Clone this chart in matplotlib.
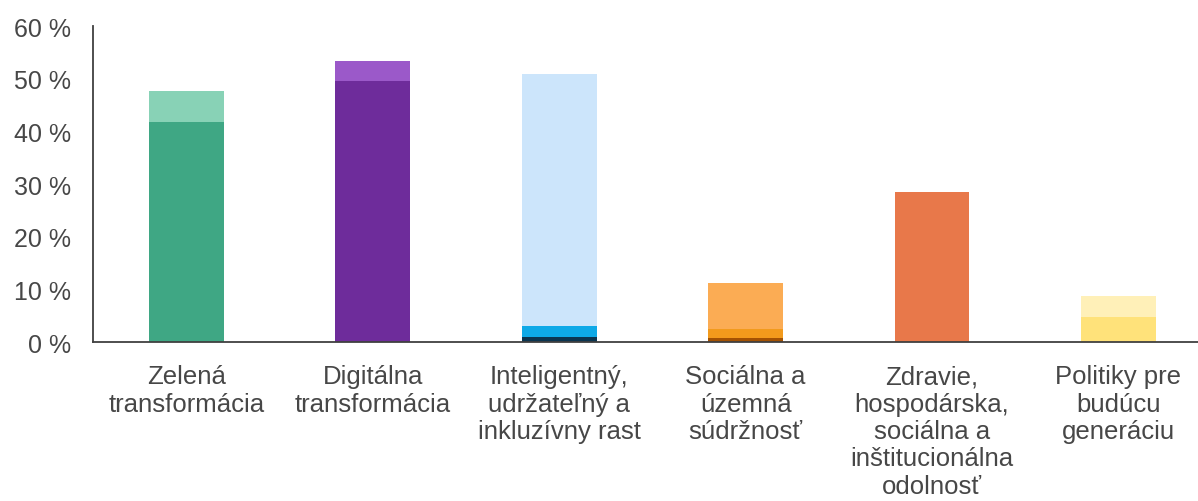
import matplotlib
matplotlib.use("Agg")
import matplotlib.pyplot as plt
import numpy as np

plt.rcParams['font.family'] = ['Liberation Sans', 'DejaVu Sans']

categories = ["Zelená\ntransformácia", "Digitálna\ntransformácia",
              "Inteligentný,\nudržateľný a\ninkluzívny rast",
              "Sociálna a\núzemná\nsúdržnosť",
              "Zdravie,\nhospodárska,\nsociálna a\ninštitucionálna\nodolnosť",
              "Politiky pre\nbudúcu\ngeneráciu"]

# stacked segments per category (bottom -> top), in %
seg1 = [41.7, 49.6, 0.9, 0.8, 28.5, 4.7]
seg2 = [5.9, 3.8, 2.1, 1.6, 0.0, 4.1]
seg3 = [0.0, 0.0, 47.9, 8.8, 0.0, 0.0]

col1 = ["#3fa784", "#6e2c9b", "#0b3550", "#a35203", "#e8784a", "#ffe27a"]
col2 = ["#88d2b6", "#9b59c9", "#0ea9e7", "#f29a1c", "#e8784a", "#fff0b8"]
col3 = ["#88d2b6", "#9b59c9", "#cce5fb", "#fbac54", "#e8784a", "#fff0b8"]

yticks = [0, 10, 20, 30, 40, 50, 60]
ytick_labels = [f"{v} %" for v in yticks]

fig = plt.figure(figsize=(11.98, 5.02), dpi=100)
ax = fig.add_axes([0.0776, 0.3167, 0.9224, 0.6295])

x = np.arange(len(categories))
w = 0.402
b = np.zeros(len(categories))
for vals, cols in [(seg1, col1), (seg2, col2), (seg3, col3)]:
    v = np.array(vals)
    ax.bar(x, v, width=w, bottom=b, color=cols, edgecolor='none', zorder=2)
    b = b + v

ax.set_xlim(-0.5016, 5.427)
ax.set_ylim(0, 60)
ax.set_yticks(yticks)
ax.set_yticklabels(ytick_labels, fontsize=18, color="#474747")
ax.set_xticks(x)
ax.set_xticklabels(categories, fontsize=18.5, color="#474747", linespacing=1.18)
ax.tick_params(axis='y', length=0, pad=16)
ax.tick_params(axis='x', length=0, pad=16)
for s in ['top', 'right']:
    ax.spines[s].set_visible(False)
for s in ['left', 'bottom']:
    ax.spines[s].set_color("#404040")
    ax.spines[s].set_linewidth(1.3)

fig.savefig("out.png", dpi=100)
